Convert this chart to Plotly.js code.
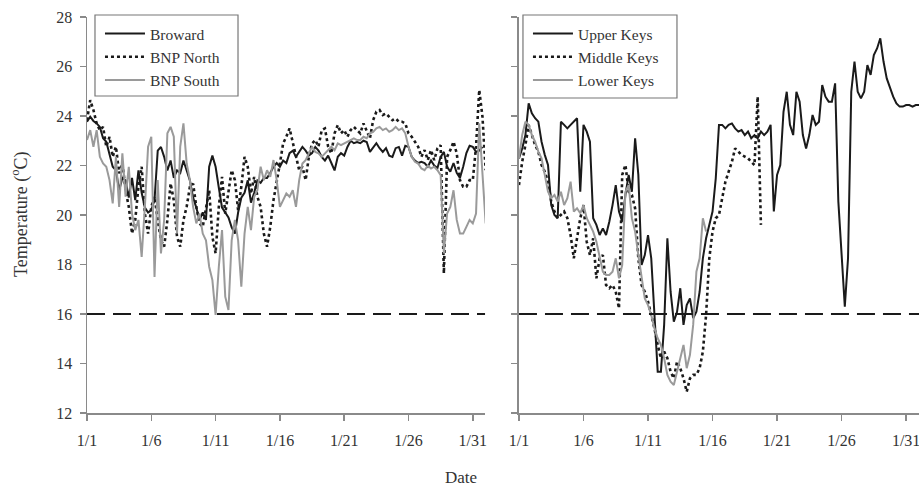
<!DOCTYPE html>
<html><head><meta charset="utf-8">
<script src="https://cdn.plot.ly/plotly-3.0.1.min.js"></script>
<style>html,body{margin:0;padding:0;background:#fff}</style>
</head><body><div id="chart" style="width:919px;height:489px"></div>
<script>
// Tick positions (day of January) and labels
const tickDays = [1, 6, 11, 16, 21, 26, 31];
const tickLabels = ['1/1', '1/6', '1/11', '1/16', '1/21', '1/26', '1/31'];
const threshold = 16;
// readings every 6 hours starting 1 Jan (day 1)
const startDay = 1;
const stepDay = 0.25;

// Left panel
const broward = [
 23.77,23.97,23.8,23.7, 23.56,23.1,22.96,22.5, 21.95,21.8,21.0,21.5, 21.4,20.7,21.5,20.6,
 21.8,20.9,20.3,20.1, 20.2,20.6,22.6,22.75, 22.35,21.8,22.2,21.5, 21.8,21.7,22.2,21.8,
 21.4,20.7,20.3,19.8, 20.1,19.8,21.95,22.4, 21.95,21.1,20.3,20.1, 19.9,19.5,19.25,20.1,
 20.7,20.9,21.4,20.5, 20.9,21.4,21.3,21.5, 21.5,21.7,21.95,22.1, 21.95,22.2,22.1,22.5,
 22.6,22.35,22.55,22.75, 22.6,22.4,22.5,22.75, 22.6,22.35,22.2,22.4, 22.1,21.8,22.35,22.5,
 22.4,22.75,23.0,22.9, 22.95,22.9,23.0,22.95, 22.55,22.75,22.9,22.7, 22.55,22.7,22.4,22.35,
 22.7,22.75,22.4,22.8, 22.75,22.35,22.2,22.1, 22.15,22.1,21.95,22.2, 22.0,21.9,22.35,22.55,
 21.95,21.75,22.1,21.7, 21.5,21.95,22.5,22.8, 22.75,22.55,22.6,22.75
];
const bnpNorth = [
 23.83,24.64,24.24,23.7, 23.43,23.56,22.76,23.16, 22.35,22.76,21.68,22.1, 21.0,20.33,19.25,19.8,
 21.14,21.95,20.06,19.25, 20.33,20.74,19.8,18.98, 18.72,19.8,21.27,20.6, 19.12,18.72,19.8,20.33,
 21.14,21.27,20.33,19.66, 19.52,20.33,21.0,19.12, 18.45,20.33,21.54,20.06, 21.0,21.81,21.41,20.2,
 21.14,22.35,21.95,20.87, 21.54,20.74,20.33,19.25, 18.72,19.52,20.6,21.27, 22.08,22.89,23.16,23.5,
 22.89,22.35,21.81,21.95, 21.41,22.35,22.89,23.03, 22.76,23.43,23.5,22.76, 22.49,23.3,23.63,23.3,
 23.43,23.16,23.43,23.56, 23.43,23.3,23.7,23.43, 23.1,23.83,24.17,24.24, 24.04,24.1,23.97,23.83,
 23.9,23.77,23.77,23.7, 23.3,23.16,22.96,22.76, 22.35,22.62,22.22,22.62, 22.22,22.69,22.82,17.64,
 22.35,22.62,22.96,22.49, 21.41,21.14,21.14,21.41, 21.41,22.76,25.05,23.97, 21.81
];
const bnpSouth = [
 23.03,23.43,22.76,23.43, 22.35,22.08,21.95,21.41, 20.47,22.35,20.33,22.49, 20.74,21.95,20.06,19.39,
 19.8,18.31,20.33,22.76, 23.16,17.5,21.41,18.45, 19.8,23.3,23.56,23.16, 19.25,22.76,23.7,22.08,
 21.41,20.33,19.66,20.06, 19.25,18.98,17.91,17.37, 15.96,17.91,19.39,16.7, 16.16,18.98,19.8,18.98,
 17.1,19.25,20.33,19.39, 20.74,21.0,21.95,21.41, 21.81,21.54,22.22,21.41, 20.33,20.6,20.87,20.74,
 21.0,20.33,21.41,22.08, 22.22,22.49,22.76,22.55, 22.49,22.35,22.49,22.62, 22.76,22.62,22.89,22.82,
 22.89,22.96,23.03,23.1, 23.03,23.03,23.16,23.1, 23.3,23.36,23.5,23.56, 23.43,23.5,23.36,23.43,
 23.56,23.43,23.5,23.3, 22.76,22.35,22.15,22.08, 21.88,21.81,22.0,21.88, 21.95,21.81,21.61,18.45,
 20.06,20.33,21.0,19.8, 19.25,19.25,19.52,19.8, 19.66,20.06,23.7,21.41, 19.66
];

// Right panel
const upperKeys = [
 22.29,22.69,23.23,24.51, 24.11,23.91,23.77,22.96, 22.43,22.02,20.4,20.0, 19.87,23.77,23.64,23.5,
 23.64,23.77,23.91,20.94, 23.64,23.37,22.96,19.87, 19.6,19.19,19.46,19.19, 19.73,20.4,21.21,20.14,
 19.73,20.81,21.62,20.94, 23.1,21.62,17.98,18.38, 19.19,18.25,15.96,13.67, 13.67,15.56,19.06,16.9,
 15.69,16.09,17.04,15.56, 16.36,16.63,15.83,16.09, 16.9,18.25,19.06,19.6, 20.14,21.48,23.64,23.64,
 23.5,23.64,23.7,23.5, 23.37,23.43,23.23,23.37, 23.1,23.23,23.1,23.37, 23.23,23.37,23.64,20.14,
 21.62,22.02,24.17,24.98, 23.64,23.23,24.98,24.58, 23.23,22.69,23.23,24.04, 23.64,23.77,25.25,24.78,
 24.58,24.58,25.32,20.54, 18.25,16.3,18.25,24.98, 26.2,24.98,24.71,24.98, 26.06,25.66,26.46,26.73,
 27.14,26.2,25.52,25.12, 24.78,24.51,24.38,24.38, 24.44,24.44,24.38,24.44, 24.44
];
const middleKeys = [
 21.21,22.15,22.83,23.64, 23.23,22.83,22.56,22.02, 21.75,21.35,20.54,20.14, 19.87,20.0,20.14,19.87,
 19.19,18.25,19.06,19.87, 20.4,18.92,18.38,19.06, 17.44,18.25,18.38,17.17, 17.04,17.17,16.9,16.23,
 21.62,22.02,20.94,20.81, 20.27,18.25,17.17,16.9, 16.5,15.96,15.42,14.75, 14.21,14.48,14.21,13.67,
 13.4,14.08,13.81,13.4, 12.86,13.4,13.54,13.54, 13.81,14.48,15.96,18.25, 19.33,19.87,20.0,20.68,
 21.35,21.75,22.15,22.69, 22.56,22.43,22.36,22.29, 22.15,22.02,24.78,19.6
];
const lowerKeys = [
 22.29,23.23,23.77,23.64, 23.23,22.96,22.56,22.29, 21.62,20.94,20.68,20.81, 20.54,20.94,20.4,20.68,
 21.35,20.14,20.27,20.07, 20.4,19.87,19.6,19.33, 18.92,18.25,17.71,17.58, 17.58,17.71,18.25,17.44,
 17.98,20.94,21.21,19.87, 19.33,18.38,17.44,16.63, 16.36,15.96,15.42,15.02, 14.75,14.21,13.54,13.27,
 13.13,13.67,14.21,14.75, 13.81,14.35,15.56,17.71, 18.25,19.87,19.33
];

function days(arr) { return arr.map((_, i) => startDay + i * stepDay); }

const BLACK = '#1a1a1a', GRAY = '#9a9a9a';
const FONT = 'Liberation Serif, Times New Roman, serif';

function tr(vals, name, color, dash, width, xa, ya, leg) {
  return {x: days(vals), y: vals, name: name, type: 'scatter', mode: 'lines',
    line: {color: color, dash: dash, width: width}, xaxis: xa, yaxis: ya, legend: leg,
    hoverinfo: 'skip'};
}
const traces = [
  tr(broward, 'Broward', BLACK, 'solid', 2, 'x', 'y', 'legend'),
  tr(bnpNorth, 'BNP North', BLACK, '3px,3px', 2.6, 'x', 'y', 'legend'),
  tr(bnpSouth, 'BNP South', GRAY, 'solid', 2, 'x', 'y', 'legend'),
  tr(upperKeys, 'Upper Keys', BLACK, 'solid', 2, 'x2', 'y2', 'legend2'),
  tr(middleKeys, 'Middle Keys', BLACK, '3px,3px', 2.6, 'x2', 'y2', 'legend2'),
  tr(lowerKeys, 'Lower Keys', GRAY, 'solid', 2, 'x2', 'y2', 'legend2')
];

const axisCommon = {
  showline: true, linecolor: '#8a8a8a', linewidth: 1.5, ticks: 'outside', ticklen: 6,
  tickcolor: '#8a8a8a', tickwidth: 1.5, showgrid: false, zeroline: false,
  tickfont: {family: FONT, size: 16, color: '#333'}
};
const xCommon = Object.assign({}, axisCommon, {tickmode: 'array', tickvals: tickDays, ticktext: tickLabels,
  ticklabelstandoff: 6, ticklabeloverflow: 'allow'});
const yCommon = Object.assign({}, axisCommon, {range: [12, 28], tickmode: 'linear', tick0: 12, dtick: 2});

const legendCommon = {
  bgcolor: 'rgba(0,0,0,0)', borderwidth: 0,
  font: {family: FONT, size: 15.5, color: '#333'}, tracegroupgap: 0,
  xanchor: 'left', yanchor: 'top', itemwidth: 40
};

// legend frames (paper coordinates)
function frame(x0, x1, y0, y1) {
  return {type: 'rect', xref: 'paper', yref: 'paper', x0: x0, x1: x1, y0: y0, y1: y1,
    line: {color: '#777', width: 1.2}, fillcolor: '#fff', layer: 'above'};
}

const layout = {
  width: 919, height: 489, paper_bgcolor: '#fff', plot_bgcolor: '#fff',
  margin: {l: 87, r: 0, t: 17, b: 76},
  showlegend: true,
  xaxis: Object.assign({}, xCommon, {domain: [0, 0.4784], range: [1, 31.95], anchor: 'y'}),
  yaxis: Object.assign({}, yCommon, {anchor: 'x', ticklabelstandoff: 4}),
  xaxis2: Object.assign({}, xCommon, {domain: [0.5192, 1], range: [1, 32.0], anchor: 'y2'}),
  yaxis2: Object.assign({}, yCommon, {anchor: 'x2', showticklabels: false}),
  legend: Object.assign({}, legendCommon, {x: 0.0156, y: 1.0}),
  legend2: Object.assign({}, legendCommon, {x: 0.530, y: 1.0}),
  shapes: [
    frame(0.0096, 0.1815, 0.8005, 1.005),
    frame(0.524, 0.7091, 0.7955, 1.005),
    {type: 'line', xref: 'x domain', yref: 'y', x0: 0, x1: 1, y0: threshold, y1: threshold,
     line: {color: BLACK, width: 2, dash: '18px,8px'}},
    {type: 'line', xref: 'x2 domain', yref: 'y2', x0: 0, x1: 1, y0: threshold, y1: threshold,
     line: {color: BLACK, width: 2, dash: '18px,8px'}}
  ],
  annotations: [
    {text: 'Date', xref: 'paper', yref: 'paper', x: 0.4495, xanchor: 'center', y: -0.164, yanchor: 'middle',
     showarrow: false, font: {family: FONT, size: 17, color: '#333'}},
    {text: 'Temperature (<sup>o</sup>C)', xref: 'paper', yref: 'paper', x: -0.0805, xanchor: 'center',
     y: 0.5, yanchor: 'middle', textangle: -90, showarrow: false, font: {family: FONT, size: 18, color: '#333'}}
  ]
};

Plotly.newPlot('chart', traces, layout, {staticPlot: true, displayModeBar: false});
</script>
</body></html>
